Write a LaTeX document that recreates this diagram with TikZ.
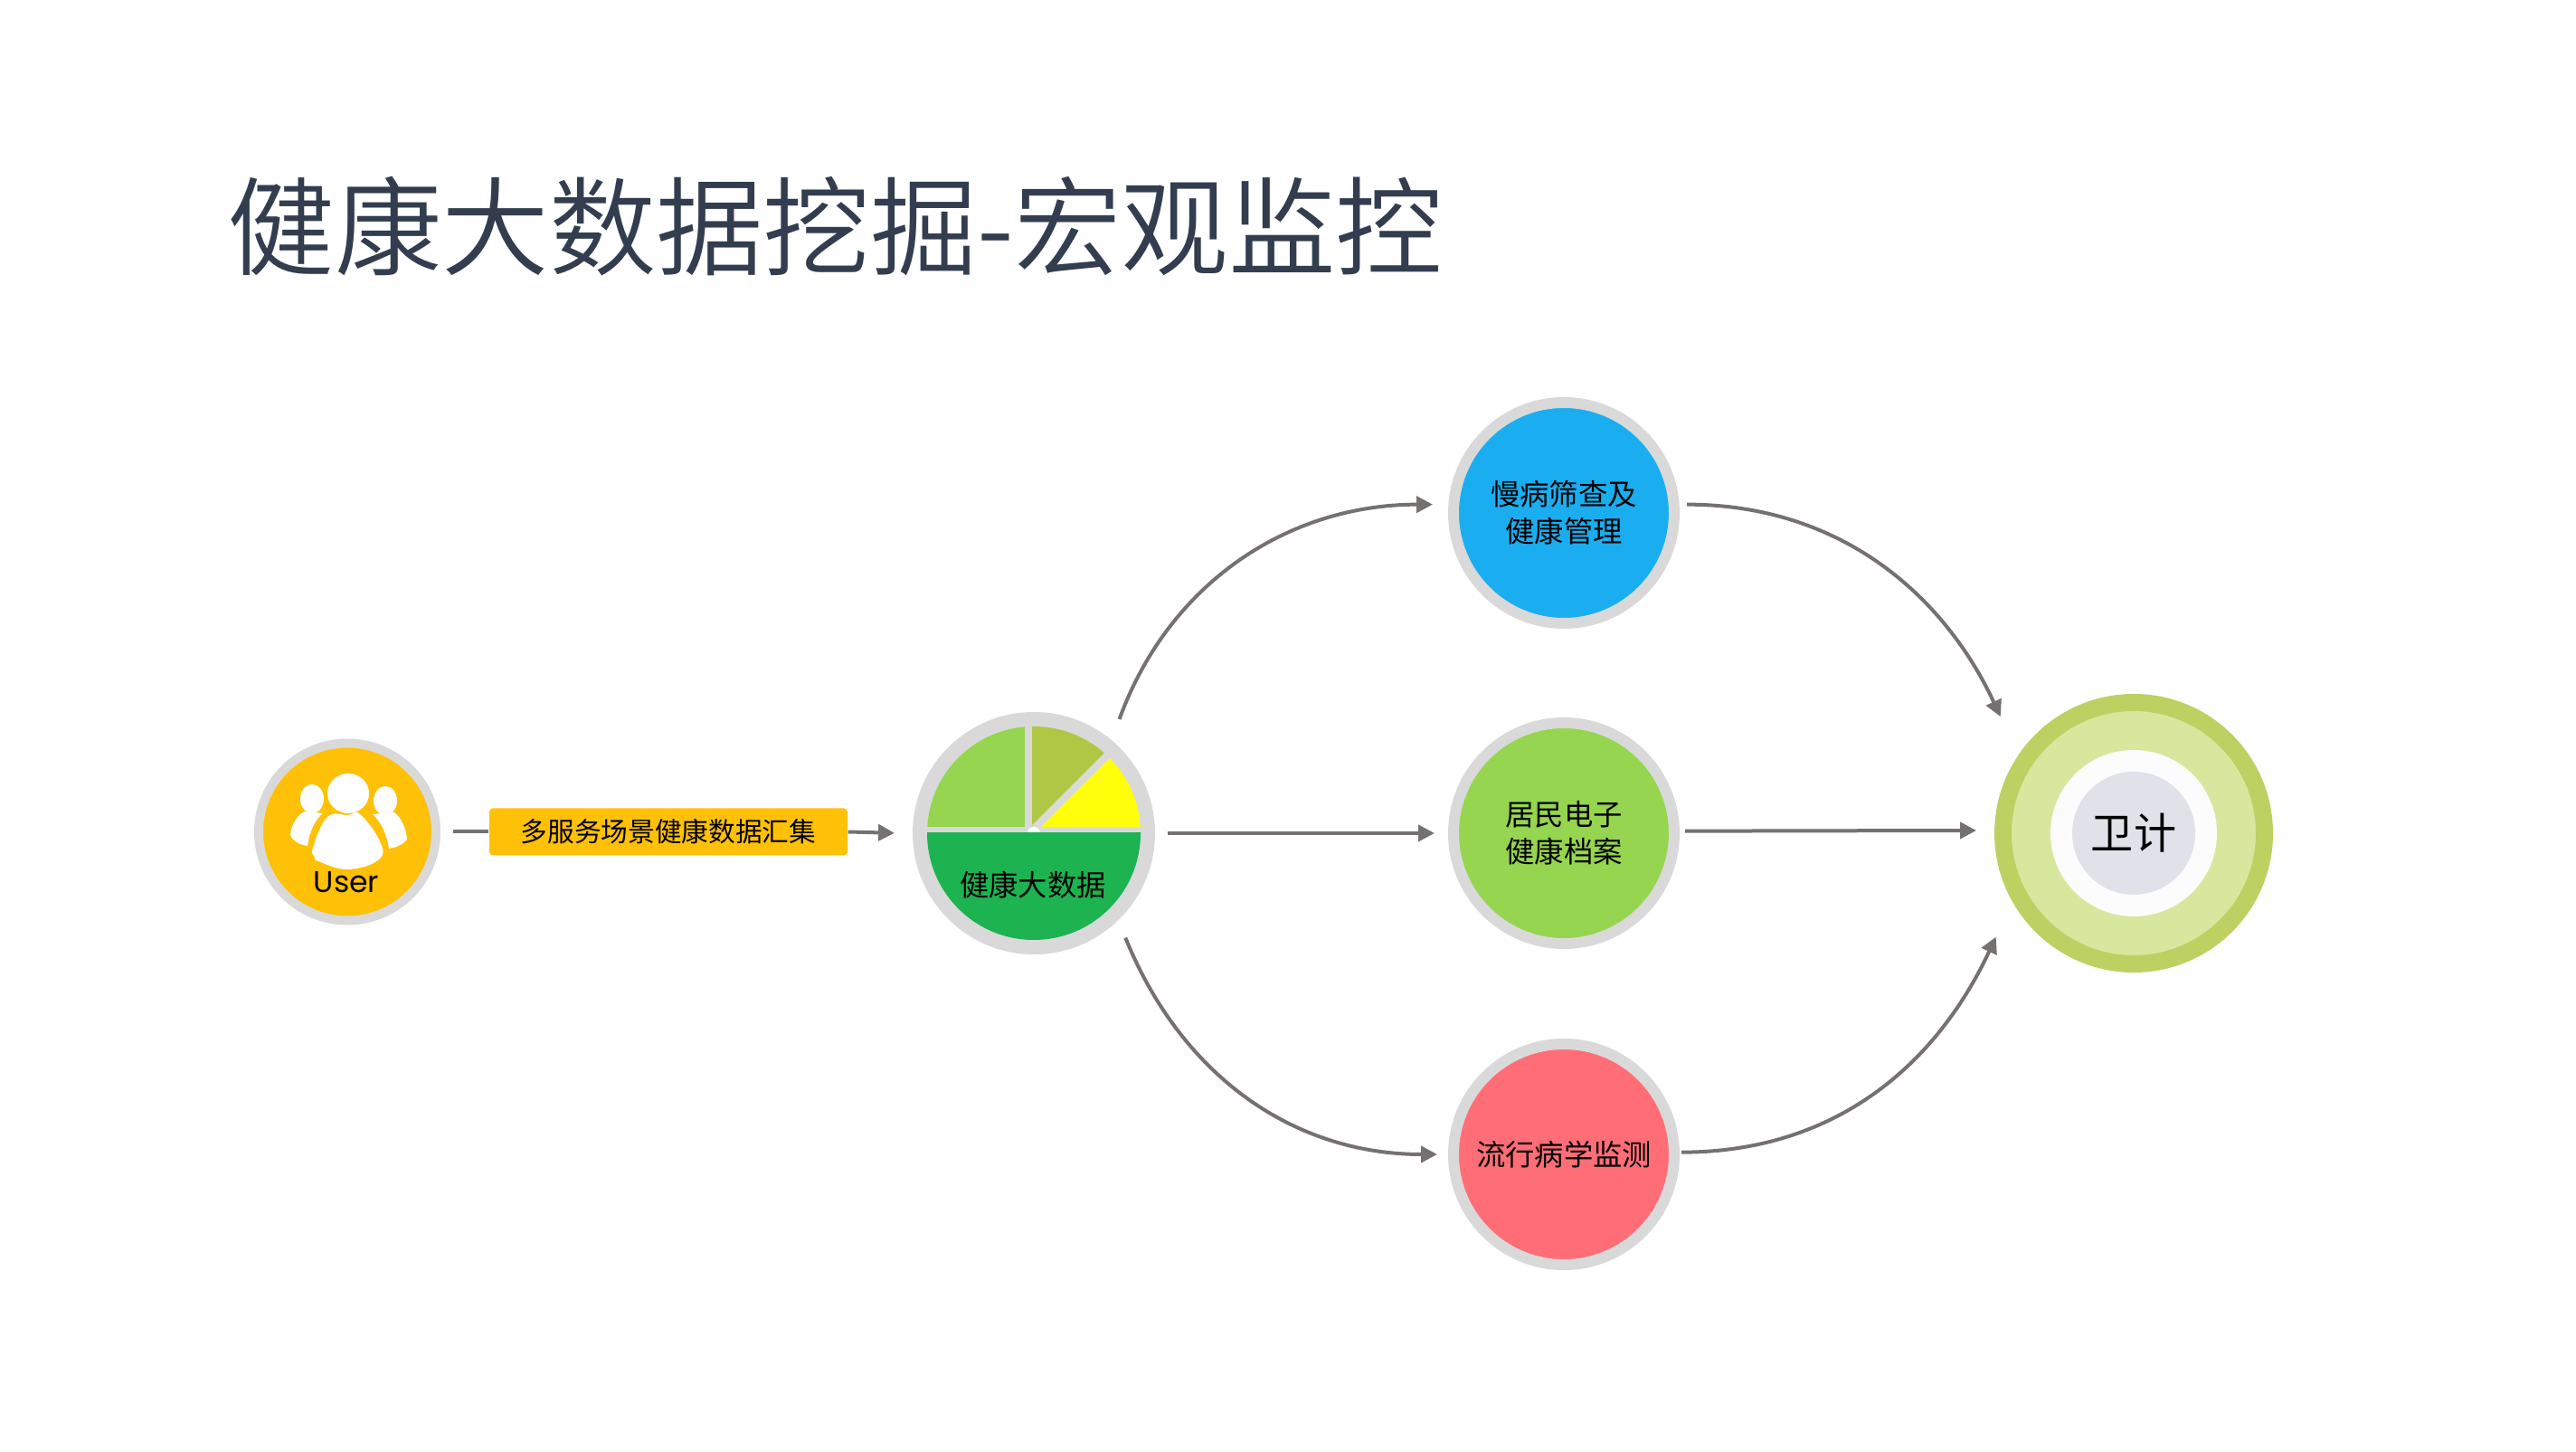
\documentclass[tikz,border=0pt]{standalone}
\usepackage{fontspec}
\usepackage{xcolor}
\setmainfont{Noto Sans CJK SC}
\newfontfamily\userfont{Poppins}
\newfontfamily\titlefont{Noto Sans CJK SC DemiLight}
\usetikzlibrary{
    arrows.meta,
    positioning
}
\definecolor{ringgrey}{HTML}{D9D9D9}
\definecolor{wiregrey}{HTML}{767171}
\definecolor{titleblue}{HTML}{323E4F}
\definecolor{amber}{HTML}{FFC107}
\definecolor{skyblue}{HTML}{1AAEF0}
\definecolor{leafgreen}{HTML}{96D54F}
\definecolor{coral}{HTML}{FF6E76}
\definecolor{deepgreen}{HTML}{1DB351}
\definecolor{olive}{HTML}{AFC742}
\definecolor{lemon}{HTML}{FFFF0A}
\definecolor{limeedge}{HTML}{BCD162}
\definecolor{limefill}{HTML}{D8E79E}
\definecolor{offwhite}{HTML}{FCFCFC}
\definecolor{palegrey}{HTML}{E1E1E9}
\tikzset{
    smalltext/.style={font=\fontsize{9.2}{11.7}\selectfont, align=center},
    ringnode/.style={circle, draw=ringgrey, line width=.12cm, minimum size=2.44cm, inner sep=0, outer sep=.12cm, smalltext},
    wire/.style={-{Triangle[length=.18cm, width=.18cm]}, wiregrey, line width=.04cm}
}
\begin{document}
\begin{tikzpicture}
                        \useasboundingbox (0, 0) rectangle (28.48, 16.04);
                        \node[text=titleblue, inner sep=0, font=\titlefont\fontsize{33.7}{40}\selectfont] (title) at (9.235, 13.54) {健康大数据挖掘-宏观监控};
                        \node[circle, draw=ringgrey, fill=amber, line width=.1cm, minimum size=1.96cm, inner sep=0, outer sep=.19cm] (user) at (3.84, 6.845) {};
                        \fill[white] (3.85, 7.27) ellipse (.23 and .22);
                        \fill[white] (3.45, 7.21) ellipse (.13 and .16);
                        \fill[white] (4.26, 7.19) ellipse (.13 and .16);
                        \fill[white] plot[smooth cycle, tension=.7] coordinates {(3.85, 7.03) (3.62, 7.01) (3.46, 6.67) (3.48, 6.57) (3.52, 6.52) (3.85, 6.43) (4.19, 6.54) (4.20, 6.74) (3.98, 7.04)};
                        \fill[white] (3.37, 7.07) .. controls (3.28, 7.03) and (3.22, 6.92) .. (3.21, 6.81) .. controls (3.24, 6.74) and (3.32, 6.70) .. (3.40, 6.69) .. controls (3.42, 6.84) and (3.48, 6.98) .. (3.57, 7.05) -- cycle;
                        \fill[white] (4.36, 7.06) .. controls (4.44, 7.00) and (4.49, 6.88) .. (4.50, 6.76) .. controls (4.46, 6.71) and (4.38, 6.67) .. (4.30, 6.66) .. controls (4.28, 6.80) and (4.22, 6.95) .. (4.12, 7.04) -- cycle;
                        \node[font=\userfont\fontsize{9.4}{11}\selectfont, inner sep=0] (usertext) at (3.83, 6.29) {User};
                        \node[fill=amber, rounded corners=.04cm, minimum width=3.96cm, minimum height=.52cm, inner sep=0, font=\fontsize{8.45}{10}\selectfont] (collect) at (7.39, 6.845) {多服务场景健康数据汇集};
                        \node[circle, fill=ringgrey, minimum size=2.68cm, inner sep=0, outer sep=.14cm] (bigdata) at (11.43, 6.83) {};
                        \begin{scope}
                            \clip (bigdata.center) circle (1.18);
                            \fill[white] (bigdata.center) circle (.07);
                            \fill[leafgreen] (10.20, 6.90) rectangle (11.33, 8.14);
                            \fill[olive] (11.41, 6.92) -- (11.41, 8.14) -- (12.63, 8.14) -- cycle;
                            \fill[lemon] (11.51, 6.90) -- (12.71, 8.10) -- (12.71, 6.90) -- cycle;
                            \fill[deepgreen] (10.20, 6.84) rectangle (12.70, 5.50);
                        \end{scope}
                        \node[smalltext, inner sep=0] (bigdatatext) at (11.42, 6.26) {健康大数据};
                        \node[ringnode, fill=skyblue] (screen) at (17.29, 10.37) {慢病筛查及\\健康管理};
                        \node[ringnode, fill=leafgreen] (record) at (17.29, 6.83) {居民电子\\健康档案};
                        \node[ringnode, fill=coral] (survey) at (17.29, 3.28) {流行病学监测};
                        \node[circle, draw=limeedge, fill=limefill, line width=.19cm, minimum size=2.89cm, inner sep=0, outer sep=.295cm] (health) at (23.59, 6.83) {};
                        \node[circle, fill=offwhite, minimum size=1.84cm, inner sep=0] (healthring) at (health.center) {};
                        \node[circle, fill=palegrey, minimum size=1.36cm, inner sep=0, font=\fontsize{13.4}{16}\selectfont] (healthcore) at (health.center) {卫计};
                        \draw[wiregrey, line width=.04cm] (user.east) -- (collect.west);
                        \path
                        (collect.east) edge[wire, shorten >=.06cm] (bigdata.west)
                        (bigdata.east) edge[wire, shorten >=.09cm] (record.west)
                        (record.1.3) edge[wire] (health.179)
                        (bigdata.52.1) edge[wire, out=70, in=180, shorten <=.1cm, shorten >=.113cm] (screen.176.15)
                        (bigdata.-48.7) edge[wire, out=-68, in=180, shorten <=.06cm, shorten >=.06cm] (survey.west)
                        (screen.4.7) edge[wire, out=0, in=115, shorten <=.025cm, shorten >=.24cm] (health.142.4)
                        (survey.1.3) edge[wire, out=0, in=245, shorten <=-.04cm, shorten >=.19cm] (health.214.2);
                    \end{tikzpicture}
\end{document}
